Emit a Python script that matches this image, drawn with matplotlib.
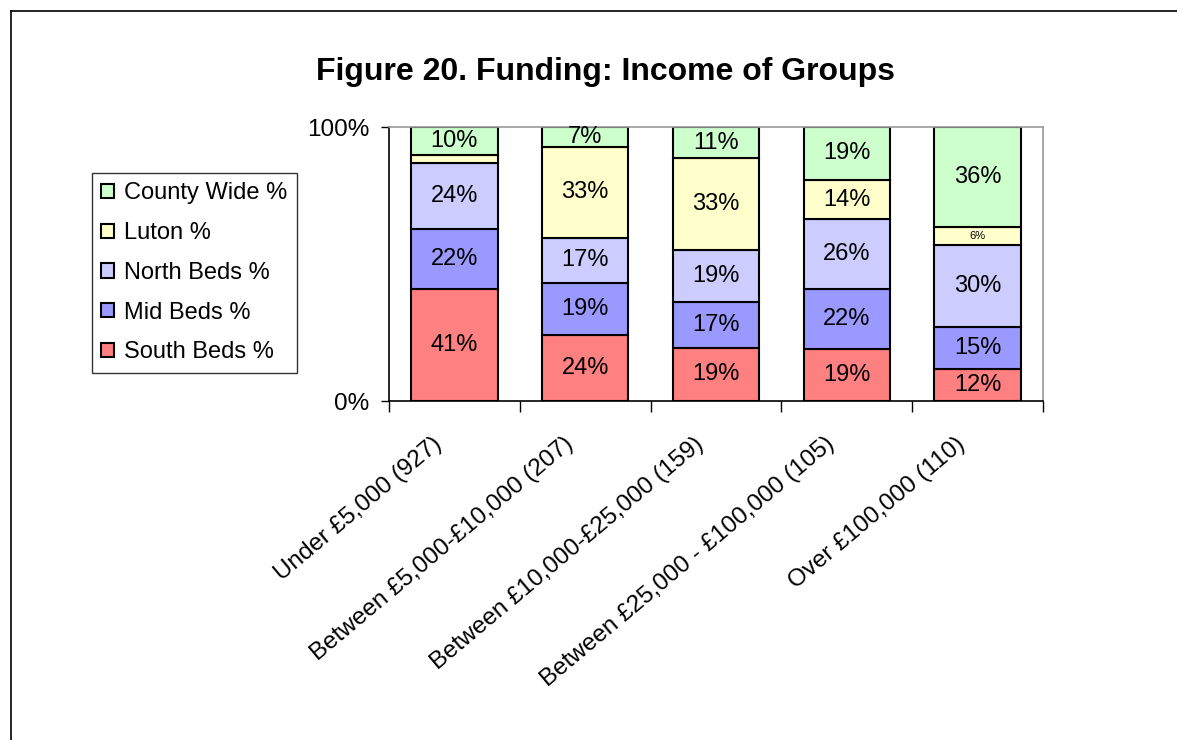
import numpy as np
import matplotlib
matplotlib.use("Agg")
import matplotlib.pyplot as plt
from matplotlib.lines import Line2D
from matplotlib.transforms import ScaledTranslation

plt.rcParams["font.family"] = ["Liberation Sans", "DejaVu Sans"]

# ── data (percent of groups in each income band) ──────────────────────────
categories = [
    "Under £5,000 (927)",
    "Between £5,000-£10,000 (207)",
    "Between £10,000-£25,000 (159)",
    "Between £25,000 - £100,000 (105)",
    "Over £100,000 (110)",
]
south_beds = [40.7, 23.9, 19.4, 18.8, 11.6]
mid_beds = [22.0, 19.0, 16.7, 21.9, 15.3]
north_beds = [24.1, 16.7, 18.9, 25.6, 29.9]
luton = [2.8, 32.9, 33.2, 14.4, 6.4]
county_wide = [10.4, 7.4, 11.4, 19.3, 36.4]

series = [
    ("South Beds %", south_beds, "#ff8080"),
    ("Mid Beds %", mid_beds, "#9999ff"),
    ("North Beds %", north_beds, "#ccccff"),
    ("Luton %", luton, "#ffffcc"),
    ("County Wide %", county_wide, "#ccffcc"),
]

fig = plt.figure(figsize=(11.77, 7.4), dpi=100)
ax = fig.add_axes([389 / 1177, 1 - 401 / 740, 654 / 1177, 274 / 740])

x = np.arange(len(categories))
totals = np.sum([s[1] for s in series], axis=0)
bottom = np.zeros(len(categories))
handles = []
for name, vals, color in series:
    share = np.array(vals) / totals * 100
    bars = ax.bar(x, share, width=0.66, bottom=bottom, color=color,
                  edgecolor="black", linewidth=1.5, label=name)
    handles.append(bars)
    for xi, b, s, v in zip(x, bottom, share, vals):
        if v < 3:
            continue
        fs = 8 if v < 8 and name == "Luton %" else 17
        ax.text(xi, b + s / 2, f"{v:.0f}%", ha="center", va="center",
                fontsize=fs)
    bottom += share

ax.set_xlim(-0.5, len(categories) - 0.5)
ax.set_ylim(0, 100)
ax.set_yticks([0, 100])
ax.set_yticklabels(["0%", "100%"], fontsize=17.5)
ax.set_xticks(x)
ax.set_xticklabels(categories, rotation=40, ha="right", va="top",
                   rotation_mode="anchor", fontsize=17.5)
ax.tick_params(axis="x", length=0, pad=23)
# Excel puts the labels a little left of the bar centre
shift = ScaledTranslation(-22 / 100, 0, fig.dpi_scale_trans)
for lab in ax.get_xticklabels():
    lab.set_transform(lab.get_transform() + shift)
ax.set_xticks(np.arange(len(categories) + 1) - 0.5, minor=True)
ax.tick_params(axis="x", which="minor", length=8, width=1, color="black")
ax.tick_params(axis="y", length=6, width=1, pad=8)

for side in ["top", "right"]:
    ax.spines[side].set_color("#999999")
    ax.spines[side].set_linewidth(1.2)
for side in ["left", "bottom"]:
    ax.spines[side].set_color("black")
    ax.spines[side].set_linewidth(1.2)

leg = fig.legend(handles=handles[::-1], loc="upper left",
                 bbox_to_anchor=(92 / 1177, 1 - 173 / 740),
                 fontsize=17, frameon=True, fancybox=False,
                 edgecolor="black", handlelength=0.55, handleheight=0.55,
                 handletextpad=0.4, labelspacing=0.75, borderpad=0.4,
                 borderaxespad=0)
leg.get_frame().set_linewidth(1.0)

fig.text(606 / 1177, 1 - 72 / 740, "Figure 20. Funding: Income of Groups",
         ha="center", va="center", fontsize=23, fontweight="bold")

# outer frame (only top and left edges fall inside the picture)
fig.add_artist(Line2D([11 / 1177, 1], [1 - 11 / 740, 1 - 11 / 740],
                      color="black", linewidth=1.2))
fig.add_artist(Line2D([11 / 1177, 11 / 1177], [0, 1 - 11 / 740],
                      color="black", linewidth=1.2))

fig.savefig("out.png", dpi=100)
